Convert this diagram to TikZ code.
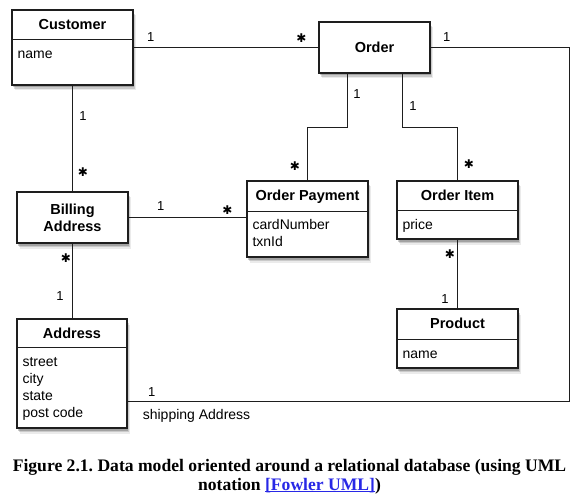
\documentclass[tikz,border=0pt]{standalone}
\usepackage{fontspec}
\setsansfont{Liberation Sans}
\newfontfamily\capfont{Liberation Serif}
\newfontfamily\starfont{DejaVu Sans}
\usetikzlibrary{shadows}
\definecolor{linkblue}{RGB}{40,40,230}
\definecolor{boxline}{RGB}{30,30,30}
\newcommand{\linkunder}[1]{\setbox0\hbox{#1}\rlap{\rule[-2.2pt]{\wd0}{1.2pt}}\box0}
\frenchspacing

\begin{document}
\begin{tikzpicture}[
		x=1pt, y=-1pt,
		every node/.style={font=\sffamily},
		classbox/.style={draw=boxline, line width=1.3pt, fill=white, inner sep=0pt,
			drop shadow={shadow xshift=3pt, shadow yshift=-5.5pt, fill=black, opacity=0.08},
			drop shadow={shadow xshift=2pt, shadow yshift=-4pt, fill=black, opacity=0.14},
			drop shadow={shadow xshift=1pt, shadow yshift=-2.5pt, fill=black, opacity=0.2}},
		classtitle/.style={font=\sffamily\bfseries\fontsize{14.5}{17}\selectfont, align=center, inner sep=0pt, anchor=base},
		attrlist/.style={font=\sffamily\fontsize{14}{17}\selectfont, align=left, anchor=north west, inner sep=0pt},
		divider/.style={draw=boxline, line width=1pt},
		mult/.style={font=\sffamily\fontsize{13}{15}\selectfont, inner sep=0pt},
		many/.style={font=\starfont\fontsize{12}{14}\selectfont, inner sep=0pt},
		assoc/.style={draw=boxline, line width=1pt}
	]
	\useasboundingbox (0,0) rectangle (584,500);

	% classes
	\node[classbox, minimum width=121pt, minimum height=75pt] (customer) at (72.5,47.5) {};
	\node[classtitle] (customertitle) at ([yshift=-20.5pt]customer.north) {Customer};
	\draw[divider] ([yshift=-30pt]customer.north west) -- ([yshift=-30pt]customer.north east);
	\node[attrlist] (customerattrs) at ([xshift=6pt,yshift=-37pt]customer.north west) {\strut name};

	\node[classbox, minimum width=111pt, minimum height=51pt] (order) at (374.5,47.5) {};
	\node[classtitle] (ordertitle) at ([yshift=-5.5pt]order.center) {Order};

	\node[classbox, minimum width=111pt, minimum height=51pt] (billing) at (72.5,217.5) {};
	\node[classtitle, anchor=center] (billingtitle) at (billing.center) {Billing\\Address};

	\node[classbox, minimum width=121pt, minimum height=76pt] (payment) at (307.5,219) {};
	\node[classtitle] (paymenttitle) at ([yshift=-20.5pt]payment.north) {Order Payment};
	\draw[divider] ([yshift=-31pt]payment.north west) -- ([yshift=-31pt]payment.north east);
	\node[attrlist] (paymentattrs) at ([xshift=6pt,yshift=-37pt]payment.north west) {\strut cardNumber\\txnId};

	\node[classbox, minimum width=121pt, minimum height=58pt] (item) at (457.5,210) {};
	\node[classtitle] (itemtitle) at ([yshift=-20.5pt]item.north) {Order Item};
	\draw[divider] ([yshift=-30pt]item.north west) -- ([yshift=-30pt]item.north east);
	\node[attrlist] (itemattrs) at ([xshift=6pt,yshift=-37pt]item.north west) {\strut price};

	\node[classbox, minimum width=110pt, minimum height=109pt] (address) at (72,373.5) {};
	\node[classtitle] (addresstitle) at ([yshift=-20pt]address.north) {Address};
	\draw[divider] ([yshift=-29pt]address.north west) -- ([yshift=-29pt]address.north east);
	\node[attrlist] (addressattrs) at ([xshift=6pt,yshift=-36pt]address.north west) {\strut street\\city\\state\\post code};

	\node[classbox, minimum width=121pt, minimum height=59pt] (product) at (457.5,338.5) {};
	\node[classtitle] (producttitle) at ([yshift=-20.5pt]product.north) {Product};
	\draw[divider] ([yshift=-31pt]product.north west) -- ([yshift=-31pt]product.north east);
	\node[attrlist] (productattrs) at ([xshift=6pt,yshift=-38pt]product.north west) {\strut name};

	% associations
	\coordinate (shipcorner) at (569,401);
	\draw[assoc] (customer.east) -- (order.west);
	\draw[assoc] (order.east) -| (shipcorner) -- (shipcorner -| address.east);
	\draw[assoc] ([xshift=-27.5pt]order.south) -- ++(0,54) -| (payment.north);
	\draw[assoc] ([xshift=27.5pt]order.south) -- ++(0,54) -| (item.north);
	\draw[assoc] (customer.south) -- (customer.south |- billing.north);
	\draw[assoc] (billing.east) -- (billing.east -| payment.west);
	\draw[assoc] (billing.south) -- (billing.south |- address.north);
	\draw[assoc] (item.south) -- (item.south |- product.north);

	% multiplicities
	\node[mult] (custorder-1) at ([xshift=17pt,yshift=10.5pt]customer.east) {1};
	\node[many] (custorder-n) at ([xshift=-17pt,yshift=9.5pt]order.west) {✱};
	\node[mult] (ordership-1) at ([xshift=16pt,yshift=10.5pt]order.east) {1};
	\node[mult] (orderpay-1) at ([xshift=-17.5pt,yshift=-20pt]order.south) {1};
	\node[many] (orderpay-n) at ([xshift=-12.5pt,yshift=14pt]payment.north) {✱};
	\node[mult] (orderitem-1) at ([xshift=38.5pt,yshift=-32pt]order.south) {1};
	\node[many] (orderitem-n) at ([xshift=11.5pt,yshift=16pt]item.north) {✱};
	\node[mult] (custbill-1) at ([xshift=10.5pt,yshift=-30pt]customer.south) {1};
	\node[many] (custbill-n) at ([xshift=10.5pt,yshift=19pt]billing.north) {✱};
	\node[mult] (billpay-1) at ([xshift=32pt,yshift=11pt]billing.east) {1};
	\node[many] (billpay-n) at ([xshift=-19pt,yshift=9pt]payment.west) {✱};
	\node[many] (billaddr-n) at ([xshift=-6.5pt,yshift=-14pt]billing.south) {✱};
	\node[mult] (billaddr-1) at ([xshift=-12pt,yshift=22pt]address.north) {1};
	\node[many] (itemprod-n) at ([xshift=-7.5pt,yshift=-14pt]item.south) {✱};
	\node[mult] (itemprod-1) at ([xshift=-12.5pt,yshift=9pt]product.north) {1};
	\node[mult] (ship-1) at ([xshift=24pt,yshift=9pt]shipcorner -| address.east) {1};
	\node[mult, anchor=west, font=\sffamily\fontsize{14}{17}\selectfont] (shiplabel) at ([xshift=15pt,yshift=-15pt]shipcorner -| address.east) {shipping Address};

	% caption
	\node[anchor=base, inner sep=0pt, font=\capfont\bfseries\fontsize{17.6}{19}\selectfont] (caption) at (289.5,471.7)
		{Figure 2.1. Data model oriented around a relational database (using UML};
	\node[anchor=base, inner sep=0pt, font=\capfont\bfseries\fontsize{17.6}{19}\selectfont] (captionnote) at ([yshift=-18.3pt]caption.base)
		{notation {\color{linkblue}\linkunder{[Fowler UML]}})};
\end{tikzpicture}
\end{document}
